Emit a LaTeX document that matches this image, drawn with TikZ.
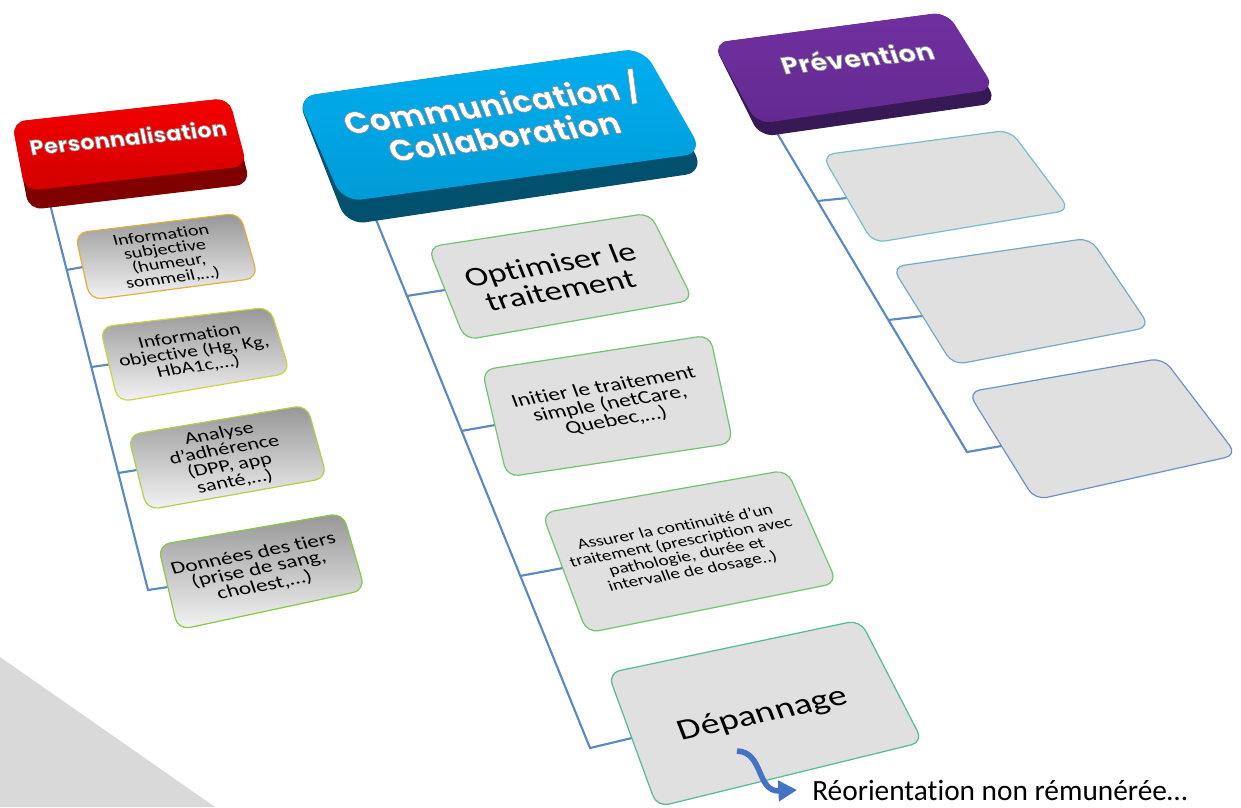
\documentclass[tikz,border=0pt]{standalone}
\usepackage{fontspec}
\setmainfont{Carlito}[Ligatures=NoCommon]
\newfontfamily\hfont{Poppins}
\usetikzlibrary{arrows.meta}
\newcommand{\embossed}[1]{\special{pdf:literal direct 2 Tr 0.55 G 0.5 w}#1\special{pdf:literal direct 0 Tr}}
\definecolor{linecol}{RGB}{91,137,194}
\definecolor{redtop}{RGB}{245,0,0}
\definecolor{redlow}{RGB}{210,0,0}
\definecolor{redside}{RGB}{128,0,0}
\definecolor{bluetop}{RGB}{0,174,239}
\definecolor{bluelow}{RGB}{0,155,215}
\definecolor{blueside}{RGB}{0,80,110}
\definecolor{purtop}{RGB}{112,48,160}
\definecolor{purlow}{RGB}{100,42,145}
\definecolor{purside}{RGB}{55,25,85}
\definecolor{boxgray}{RGB}{224,224,224}
\definecolor{gdark}{RGB}{150,150,150}
\definecolor{glight}{RGB}{244,244,244}
\definecolor{bPa}{RGB}{222,176,64}
\definecolor{bPb}{RGB}{206,210,70}
\definecolor{bPc}{RGB}{176,208,72}
\definecolor{bPd}{RGB}{136,200,72}
\definecolor{bC}{RGB}{112,196,112}
\definecolor{bCd}{RGB}{80,188,150}
\definecolor{bVa}{RGB}{120,190,200}
\definecolor{bVb}{RGB}{120,168,200}
\definecolor{bVc}{RGB}{110,145,195}
\definecolor{trigray}{RGB}{217,217,217}
\definecolor{arrblue}{RGB}{68,114,196}
\begin{document}
\begin{tikzpicture}[x=0.75pt,y=-0.75pt,
  conn/.style={draw=linecol,line width=1.6pt,line join=miter},
  kidbox/.style={rounded corners=9pt,line width=0.9pt},
  pbox/.style={kidbox,top color=gdark,bottom color=glight},
  gbox/.style={kidbox,fill=boxgray},
  hdrtxt/.style={align=center,inner sep=0pt,text=white,transform shape},
  kidtxt/.style={align=center,inner sep=0pt,text=black,transform shape},
]
\useasboundingbox (0,0) rectangle (1241,807);
\fill[trigray] (0,657) -- (215,807) -- (0,807) -- cycle;

% ---------- coordinates for connectors
\coordinate (persTop) at (46.4,190);
\coordinate (persA) at (66.5,270);
\coordinate (persB) at (91.4,367);
\coordinate (persC) at (118.3,473);
\coordinate (persEnd) at (148,590);
\coordinate (inPa) at (83,267);
\coordinate (inPb) at (109,364.5);
\coordinate (inPc) at (137,470);
\coordinate (inPd) at (168,587);

\coordinate (commTop) at (369.3,203);
\coordinate (commA) at (406.6,296);
\coordinate (commB) at (461.2,431);
\coordinate (commC) at (519.9,576);
\coordinate (commEnd) at (590,748);
\coordinate (inCa) at (445,290);
\coordinate (inCb) at (495,425);
\coordinate (inCc) at (563,568);
\coordinate (inCd) at (632,738);

\coordinate (prevTop) at (772.8,126);
\coordinate (prevA) at (817.5,201);
\coordinate (prevB) at (888.4,320);
\coordinate (prevEnd) at (967,452);
\coordinate (inVa) at (847,198);
\coordinate (inVb) at (922.5,316);
\coordinate (inVc) at (1001.5,446);

% ---------- connectors
\draw[conn] (persTop) -- (persEnd) -- (inPd);
\draw[conn] (persA) -- (inPa);
\draw[conn] (persB) -- (inPb);
\draw[conn] (persC) -- (inPc);
\draw[conn] (commTop) -- (commEnd) -- (inCd);
\draw[conn] (commA) -- (inCa);
\draw[conn] (commB) -- (inCb);
\draw[conn] (commC) -- (inCc);
\draw[conn] (prevTop) -- (prevEnd) -- (inVc);
\draw[conn] (prevA) -- (inVa);
\draw[conn] (prevB) -- (inVb);

% ---------- header blocks
\fill[redside,rounded corners=10pt] (12,122) -- (229,98) -- (250,184) -- (29,210) -- cycle;
\path[top color=redtop,bottom color=redlow,rounded corners=10pt] (12,122) -- (229,98) -- (247,166) -- (25,191) -- cycle;
\fill[blueside,rounded corners=14pt] (297,97) -- (643,48) -- (704,172) -- (347,225) -- cycle;
\path[top color=bluetop,bottom color=bluelow,rounded corners=14pt] (297,97) -- (643,48) -- (703,153) -- (343,202) -- cycle;
\fill[purside,rounded corners=11pt] (713,43) -- (947,12) -- (997,103) -- (760,137) -- cycle;
\path[top color=purtop,bottom color=purlow,rounded corners=11pt] (713,43) -- (947,12) -- (995,89) -- (757,124) -- cycle;

\node[hdrtxt,rotate=5.8,xslant=-0.1,yscale=0.93,font=\hfont\bfseries\fontsize{17}{19}\selectfont] (persT) at (128,137) {\embossed{Personnalisation}};
\node[hdrtxt,rotate=7.3,xslant=-0.25,yscale=0.95,font=\hfont\bfseries\fontsize{24.5}{26}\selectfont] (commT) at (497,117.5) {\embossed{Communication /}\\\embossed{Collaboration}};
\node[hdrtxt,rotate=5.7,xslant=-0.25,yscale=0.88,font=\hfont\bfseries\fontsize{20.5}{22}\selectfont] (prevT) at (857,57) {\embossed{Prévention}};

% ---------- Personnalisation children
\path[pbox,draw=bPa] (75,233) -- (240,213) -- (258,278) -- (90,300) -- cycle;
\path[pbox,draw=bPb] (100,327) -- (270,307) -- (290,373) -- (118,402) -- cycle;
\path[pbox,draw=bPc] (128,435) -- (307,405) -- (327,478) -- (147,510) -- cycle;
\path[pbox,draw=bPd] (158,545) -- (343,513) -- (365,590) -- (178,630) -- cycle;
\node[kidtxt,rotate=7.2,xslant=-0.15,yscale=0.78,font=\fontsize{15}{14}\selectfont] (pa) at (167,257) {Information\\subjective\\(humeur,\\sommeil,…)};
\node[kidtxt,rotate=8,xslant=-0.15,yscale=0.78,font=\fontsize{16}{15}\selectfont] (pb) at (194,352) {Information\\objective (Hg, Kg,\\HbA1c,…)};
\node[kidtxt,rotate=9.8,xslant=-0.15,yscale=0.78,font=\fontsize{16.6}{16}\selectfont] (pc) at (227,458) {Analyse\\d’adhérence\\(DPP, app\\santé,…)};
\node[kidtxt,rotate=11,xslant=-0.15,yscale=0.78,font=\fontsize{17.3}{15.5}\selectfont] (pd) at (259,570) {Données des tiers\\(prise de sang,\\cholest,…)};

% ---------- Communication children
\path[gbox,draw=bC] (428,247) -- (650,213) -- (693,300) -- (465,340) -- cycle;
\path[gbox,draw=bC] (482,370) -- (710,335) -- (733,443) -- (507,477) -- cycle;
\path[gbox,draw=bC] (542,513) -- (787,470) -- (837,583) -- (587,633) -- cycle;
\path[gbox,draw=bCd] (608,673) -- (860,620) -- (923,742) -- (657,807) -- cycle;
\node[kidtxt,rotate=9.3,xslant=-0.22,yscale=0.8,font=\fontsize{26}{25.5}\selectfont] (ca) at (555,277) {Optimiser le\\traitement};
\node[kidtxt,rotate=9.5,xslant=-0.2,yscale=0.8,font=\fontsize{17.5}{16.5}\selectfont] (cb) at (610,404) {Initier le traitement\\simple (netCare,\\Quebec,…)};
\node[kidtxt,rotate=10.5,xslant=-0.2,yscale=0.8,font=\fontsize{14.3}{14.5}\selectfont] (cc) at (684,550) {Assurer la continuité d’un\\traitement (prescription avec\\pathologie, durée et\\intervalle de dosage..)};
\node[kidtxt,rotate=12.5,xslant=-0.15,yscale=0.8,font=\fontsize{28}{30}\selectfont] (cd) at (763,715) {Dépannage};

% ---------- Prévention children
\path[gbox,draw=bVa] (822,155) -- (1010,130) -- (1070,210) -- (873,243) -- cycle;
\path[gbox,draw=bVb] (892,267) -- (1090,238) -- (1150,327) -- (953,365) -- cycle;
\path[gbox,draw=bVc] (968,392) -- (1163,358) -- (1237,455) -- (1035,500) -- cycle;

% ---------- arrow and note
\coordinate (arrS) at (737,751);
\coordinate (arrE) at (797,790);
\draw[arrblue,line width=4.2pt,-{Triangle[length=14pt,width=15pt]}] (arrS) .. controls (764,752) and (756,792) .. (arrE);
\node[anchor=base west,inner sep=0pt,font=\fontsize{22}{26}\selectfont] (reo) at (812,800) {Réorientation non rémunérée…};
\end{tikzpicture}
\end{document}
